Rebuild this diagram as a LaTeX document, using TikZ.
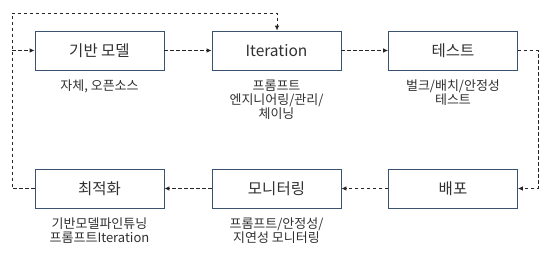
\documentclass[tikz,border=0pt]{standalone}
\usepackage{fontspec}
\setmainfont{Noto Sans CJK KR}
\usetikzlibrary{arrows.meta}
\definecolor{boxline}{HTML}{3B5270}
\definecolor{txt}{HTML}{303030}
\begin{document}
\begin{tikzpicture}[x=1pt,y=-1pt,
  stagebox/.style={draw=boxline,line width=0.7pt,minimum width=129pt,minimum height=39pt,inner sep=0pt,font=\fontsize{15.5}{17}\selectfont,text=txt},
  note/.style={font=\fontsize{13}{14.2}\selectfont,text=txt,align=center,anchor=north,inner sep=0pt},
  flow/.style={draw=black!85,dash pattern=on 3.5pt off 2.5pt,line width=0.8pt,-{Latex[length=5pt,width=4.5pt]}}]
\useasboundingbox (0,0) rectangle (550,258);
\node[stagebox] (b1) at (99.5,50.5) {기반 모델};
\node[stagebox] (b2) at (276.5,50.5) {Iteration};
\node[stagebox] (b3) at (453,50.5) {테스트};
\node[stagebox] (b4) at (99.5,188.5) {최적화};
\node[stagebox] (b5) at (276.5,188.5) {모니터링};
\node[stagebox] (b6) at (453,188.5) {배포};
\node[note] (n1) at (99.5,79.5) {자체, 오픈소스};
\node[note] (n2) at (276.5,79.5) {프롬프트\\엔지니어링/관리/\\체이닝};
\node[note] (n3) at (453,79.5) {벌크/배치/안정성\\테스트};
\node[note] (n4) at (99.5,217.5) {기반모델파인튜닝\\프롬프트Iteration};
\node[note] (n5) at (276.5,217.5) {프롬프트/안정성/\\지연성 모니터링};
\coordinate (rc) at (538,50.5);
\coordinate (lc) at (12,188.5);
\coordinate (tl) at (12,13);
\coordinate (tr) at (277,13);
\coordinate (lm) at (12,50.5);
\draw[flow] (b1) -- (b2);
\draw[flow] (b2) -- (b3);
\draw[flow] (b3.east) -- (rc) |- (b6.east);
\draw[flow] (b6) -- (b5);
\draw[flow] (b5) -- (b4);
\draw[flow] (b4.west) -- (lc) -- (tl) -- (tr) -- (b2.north -| tr);
\draw[flow] (lm) -- (b1.west);
\end{tikzpicture}
\end{document}
